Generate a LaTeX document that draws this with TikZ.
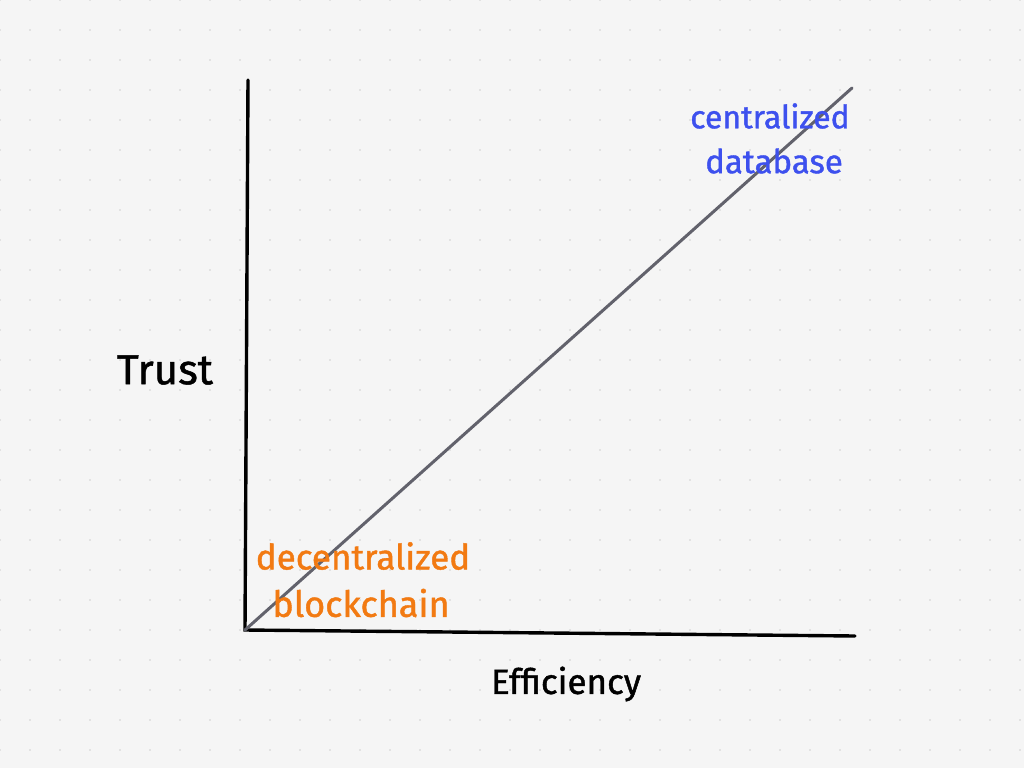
\documentclass[tikz,border=0pt]{standalone}
\usepackage{fontspec}
\setmainfont{Fira Sans}[FakeBold=1.2]
\definecolor{paper}{HTML}{F5F5F5}
\definecolor{dotc}{HTML}{CFCFCF}
\definecolor{linec}{HTML}{62626C}
\definecolor{bluec}{HTML}{3D50EE}
\definecolor{orangec}{HTML}{F27A12}
\tikzset{
  axis/.style={line width=3.4pt, black, line cap=round},
  diag/.style={line width=3pt, linec, line cap=round},
  lbl/.style={inner sep=0pt, anchor=center},
}
\newcommand{\fsz}[1]{\fontsize{#1}{#1}\selectfont}
\begin{document}
\begin{tikzpicture}[x=1pt,y=-1pt]
\useasboundingbox (0,0) rectangle (1024,768);
\fill[paper] (0,0) rectangle (1024,768);
\foreach \i in {0,...,34}{
  \foreach \j in {0,...,25}{
    \fill[dotc] (\i*30,\j*30) circle (0.9);
  }
}
\coordinate (o) at (245,630);
\coordinate (ytop) at (248,80);
\coordinate (xend) at (855,636);
\coordinate (dend) at (852,88);
\draw[axis] (ytop) -- (o) -- (xend);
\draw[diag] (o) -- (dend);
\node[lbl, font=\fsz{42}] (trust) at (165,370) {Trust};
\node[lbl, font=\fsz{35}] (eff) at (566,684) {Efficiency};
\node[lbl, bluec, font=\fsz{32}] (cen) at (770,116) {centralized};
\node[lbl, bluec, font=\fsz{33}] (dat) at (774,161) {database};
\node[lbl, orangec, font=\fsz{35}] (dec) at (363,556) {decentralized};
\node[lbl, orangec, font=\fsz{36}] (blk) at (361,603) {blockchain};
\end{tikzpicture}
\end{document}
